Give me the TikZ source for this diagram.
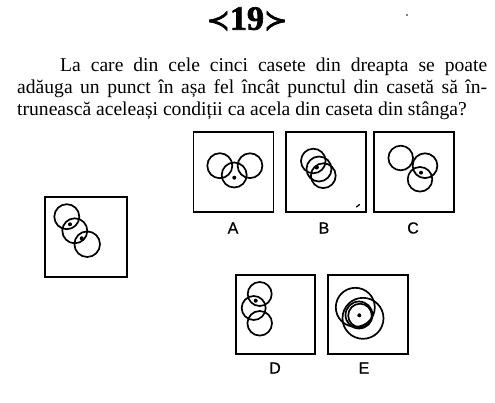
\documentclass[tikz,border=0pt]{standalone}
\usepackage{fontspec}
\setmainfont{Liberation Serif}
\newfontfamily\labelfont[FakeBold=0.6]{Liberation Sans}
\newfontfamily\symfont[FakeBold=2]{DejaVu Sans}
\newfontfamily\titlufont[FakeBold=2]{Liberation Serif Bold}
\begin{document}
\begin{tikzpicture}[x=1pt,y=-1pt,
    caseta/.style={draw,line width=1.9pt,minimum width=80pt,minimum height=80pt,inner sep=0pt},
    cerc/.style={line width=1.7pt},
    litera/.style={font=\labelfont\fontsize{16}{16}\selectfont},
    rand/.style={anchor=base west,inner sep=0pt,font=\fontsize{19.6}{19.6}\selectfont}]
  \useasboundingbox (0,0) rectangle (495,402);
  % titlu si enunt
  \node (titlu) at (247,19) {\symfont\fontsize{28}{28}\selectfont ≺\titlufont\fontsize{34}{34}\selectfont 19\symfont\fontsize{28}{28}\selectfont ≻};
  \node[rand] (r1) at (60,71) {\hbox to 427pt{La care din cele cinci casete din dreapta se poate}};
  \node[rand] (r2) at (17,93) {\hbox to 470pt{adăuga un punct în așa fel încât punctul din casetă să în-}};
  \node[rand] (r3) at (17,115) {trunească aceleași condiții ca acela din caseta din stânga?};
  % casetele
  \draw
    (86,237) node[caseta,minimum width=82pt] (st){}
    (233.5,172) node[caseta] (A){}
    (326,172) node[caseta] (B){}
    (414,172) node[caseta] (C){}
    (275.5,314.5) node[caseta,minimum width=79pt,minimum height=79pt] (D){}
    (368,314.5) node[caseta,minimum height=79pt] (E){};
  \draw
    (233,228) node[litera] (lA){A}
    (324,228) node[litera] (lB){B}
    (413,228) node[litera] (lC){C}
    (275,368) node[litera] (lD){D}
    (364,368) node[litera] (lE){E};
  % cercurile
  \begin{scope}[cerc]
    \draw (66.8,216.7) circle (12.5);
    \draw (74.8,230.8) circle (12.5);
    \draw (87.2,244.2) circle (12.8);
    \draw (219.8,165.7) circle (12.5);
    \draw (250,165.7) circle (12.4);
    \draw (234.2,175) circle (12.5);
    \draw (313.3,161) circle (12.3);
    \draw (319,169) circle (12.5);
    \draw (323.3,175.7) circle (12.4);
    \draw (400.7,158) circle (12.3);
    \draw (425,165.7) circle (12.4);
    \draw (420,179.3) circle (12.3);
    \draw (259.7,294) circle (12);
    \draw (253.7,308) circle (12);
    \draw (259.7,323.3) circle (12.3);
    \draw (355.3,307.3) circle (19.5);
    \draw (363,318.3) circle (20.5);
    \draw (359,315) circle (13.5);
    \draw (360,315.5) circle (11.8);
  \end{scope}
  % punctele
  \begin{scope}[fill=black]
    \fill (70,224.3) circle (2);
    \fill (81.7,238.3) circle (2);
    \fill (234.3,177.7) circle (2);
    \fill (316.7,167.3) circle (2.2);
    \fill (421,172.7) circle (2);
    \fill (255.7,300.7) circle (2);
    \fill (359.3,315.3) circle (2);
    \fill (407,15) circle (0.8);
  \end{scope}
  \draw[line width=1.3pt,line cap=round] (356.5,207) -- (359.5,204.5);
\end{tikzpicture}
\end{document}
